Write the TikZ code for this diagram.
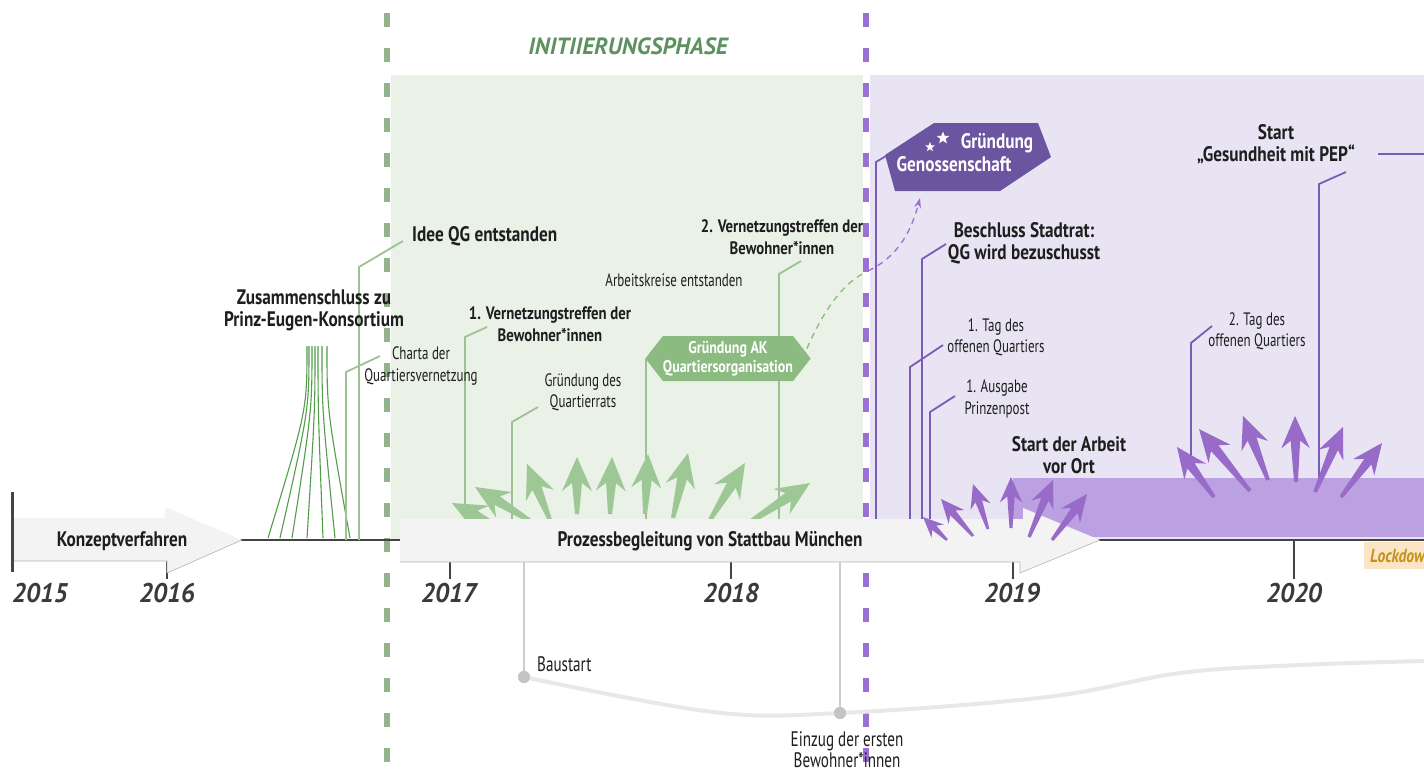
\documentclass[tikz,border=0pt]{standalone}
\usepackage{fontspec}
\setmainfont{PT Sans}
\newfontfamily\condfont[FakeStretch=0.72]{PT Sans}
\newfontfamily\condbfont[FakeStretch=0.82]{PT Sans}
\newfontfamily\yearfont[FakeStretch=0.95]{PT Sans}
\newfontfamily\phasefont[FakeStretch=1.0]{PT Sans}
\usetikzlibrary{calc,shapes.geometric,shapes.symbols,arrows.meta}

\definecolor{ink}{HTML}{1E1E1E}
\definecolor{yearc}{HTML}{3A3A3A}
\definecolor{axisc}{HTML}{444444}
\definecolor{greenbg}{HTML}{EAF1E7}
\definecolor{purplebg}{HTML}{E9E4F4}
\definecolor{greendash}{HTML}{93B38D}
\definecolor{purpledash}{HTML}{9A70D2}
\definecolor{greenlead}{HTML}{9CC292}
\definecolor{fanc}{HTML}{529C4C}
\definecolor{greenarr}{HTML}{9DC896}
\definecolor{hexgreen}{HTML}{8BBB80}
\definecolor{phasetitle}{HTML}{5E9160}
\definecolor{purplelead}{HTML}{7A5BB6}
\definecolor{purplearr}{HTML}{986BC9}
\definecolor{purpleband}{HTML}{BBA0E2}
\definecolor{hexpurple}{HTML}{6B54A0}
\definecolor{procfill}{HTML}{F3F3F3}
\definecolor{procedge}{HTML}{B4B4B4}
\definecolor{lockbg}{HTML}{FCE5C4}
\definecolor{locktext}{HTML}{C4921C}
\definecolor{buildline}{HTML}{CDCDCD}
\definecolor{buildcurve}{HTML}{E8E8E8}
\definecolor{builddot}{HTML}{C4C4C4}

% fat radiating arrow: #1 style, #2 size factor, #3 tail, #4 tip
\newcommand\fatarrow[4]{%
  \coordinate (fa-t) at (#4);
  \coordinate (fa-s) at (#3);
  \coordinate (fa-h) at ($(fa-t)!#2*34pt!(fa-s)$);
  \coordinate (fa-j) at ($(fa-t)!#2*26pt!(fa-s)$);
  \fill[#1] (fa-t) -- ($(fa-h)!#2*15pt!90:(fa-t)$) -- ($(fa-j)!#2*5pt!90:(fa-t)$)
    -- ($(fa-s)!#2*2pt!90:(fa-t)$) -- ($(fa-s)!#2*2pt!-90:(fa-t)$)
    -- ($(fa-j)!#2*5pt!-90:(fa-t)$) -- ($(fa-h)!#2*15pt!-90:(fa-t)$) -- cycle;
}

\begin{document}
\begin{tikzpicture}[x=1pt,y=-1pt,
  lblB/.style={font=\condbfont\bfseries\fontsize{21}{22}\selectfont, text=ink, align=center, inner sep=0pt},
  lblS/.style={font=\condbfont\bfseries\fontsize{18}{21.5}\selectfont, text=ink, align=center, inner sep=0pt},
  lblN/.style={font=\condfont\fontsize{18}{21.5}\selectfont, text=ink, align=center, inner sep=0pt},
  lblL/.style={font=\condfont\fontsize{21}{21}\selectfont, text=ink, align=center, inner sep=0pt},
  lblW/.style={font=\condbfont\bfseries\fontsize{21}{21}\selectfont, text=white, align=center, inner sep=0pt},
  yearlbl/.style={font=\yearfont\bfseries\itshape\fontsize{27}{27}\selectfont, text=yearc, inner sep=0pt},
  phaseG/.style={draw=greendash, line width=5.5pt, dash pattern=on 14pt off 21pt},
  phaseP/.style={draw=purpledash, line width=5.5pt, dash pattern=on 14pt off 21pt},
  leadG/.style={draw=greenlead, line width=1.8pt},
  leadP/.style={draw=purplelead, line width=1.8pt},
  fanline/.style={draw=fanc, line width=1.1pt},
  tickline/.style={draw=axisc, line width=2.5pt},
  procarrow/.style={fill=procfill},
  procline/.style={draw=procedge, line width=0.6pt},
  garr/.style={fill=greenarr},
  parr/.style={fill=purplearr},
  dropline/.style={draw=buildline, line width=1.5pt},
  dot/.style={circle, fill=builddot, minimum size=12pt, inner sep=0pt}
]
\useasboundingbox (0,0) rectangle (1424,772);
\fill[white] (0,0) rectangle (1424,772);

% phase backgrounds
\fill[greenbg] (391,75) rectangle (863,540);
\fill[purplebg] (870,75) rectangle (1424,540);

% phase borders
\draw[phaseG] (387,13) -- (387,772);
\draw[phaseP] (866,13) -- (866,772);
\node[font=\phasefont\bfseries\itshape\fontsize{23.5}{23.5}\selectfont, text=phasetitle, inner sep=0pt] (phase) at (628,46) {INITIIERUNGSPHASE};

% on-site work band
\fill[purpleband] (1013,478) rectangle (1424,537);

% time axis
\coordinate (ax-start) at (12,540);
\coordinate (ax-end) at (1424,540);
\draw[tickline] (ax-start) -- (ax-end);
\draw[draw=axisc, line width=3pt] (12,492) -- (12,572);
\foreach \xx in {167,450,731,1013,1294} \draw[tickline] (\xx,540) -- (\xx,579);
\node[yearlbl] (y2015) at (40,593) {2015};
\node[yearlbl] (y2016) at (167,593) {2016};
\node[yearlbl] (y2017) at (449,593) {2017};
\node[yearlbl] (y2018) at (731,593) {2018};
\node[yearlbl] (y2019) at (1012,593) {2019};
\node[yearlbl] (y2020) at (1294,593) {2020};

% consortium fan
\foreach \tx/\bx in {307/268, 309/280, 312/292, 315/307, 318/323, 322/335, 327/350}
  \draw[fanline] (\tx,346) .. controls (\tx,410) .. (\bx,538);

% green leader lines
\coordinate (idee-foot) at (359,540);
\coordinate (charta-foot) at (346,540);
\coordinate (v1-foot) at (465,519);
\coordinate (qr-foot) at (512,519);
\coordinate (ak-foot) at (646,519);
\coordinate (v2-foot) at (779,519);
\draw[leadG] (idee-foot) -- (359,267) -- (403,241);
\draw[leadG] (charta-foot) -- (346,372) -- (380,356);
\draw[leadG] (v1-foot) -- (465,337) -- (487,327);
\draw[leadG] (qr-foot) -- (512,422) -- (538,407);
\draw[leadG] (ak-foot) -- (646,359);
\draw[leadG] (v2-foot) -- (779,274) -- (801,261);

% purple leader lines
\coordinate (gen-foot) at (876,540);
\coordinate (bs-foot) at (922,540);
\coordinate (tag1-foot) at (910,540);
\coordinate (aus-foot) at (930,540);
\coordinate (tag2-foot) at (1191,470);
\coordinate (pep-foot) at (1319,485);
\draw[leadP] (gen-foot) -- (876,162) -- (886,156);
\draw[leadP] (bs-foot) -- (922,259) -- (946,244);
\draw[leadP] (tag1-foot) -- (910,367) -- (943,345);
\draw[leadP] (aus-foot) -- (930,412) -- (955,396);
\draw[leadP] (tag2-foot) -- (1191,343) -- (1212,326);
\draw[leadP] (pep-foot) -- (1319,184) -- (1346,172);
\coordinate (pep-line) at (1378,154);
\coordinate (pep-out) at (1424,154);
\draw[draw=purplelead, line width=1.5pt] (pep-line) -- (pep-out);

% green radiating arrows
\fatarrow{garr}{1}{505,531}{452,503}
\fatarrow{garr}{1}{532,522}{475,487}
\fatarrow{garr}{1}{550,520}{527,464}
\fatarrow{garr}{1}{577,514}{577,457}
\fatarrow{garr}{1}{610,514}{612,457}
\fatarrow{garr}{1}{645,514}{648,454}
\fatarrow{garr}{1}{673,518}{688,453}
\fatarrow{garr}{1}{710,520}{745,463}
\fatarrow{garr}{1}{747,524}{810,483}

% process arrows
\fill[procarrow] (14,518) -- (165,518) -- (165,507) -- (242,540) -- (167,573) -- (167,561) -- (14,561) -- cycle;
\draw[procline] (14,561) -- (167,561) -- (167,573) -- (242,540);
\node[lblB] (konzept) at (122,541) {Konzeptverfahren};

\fill[procarrow] (400,519) -- (1023,519) -- (1023,508) -- (1100,540) -- (1020,573) -- (1020,562) -- (400,562) -- cycle;
\draw[procline] (400,562) -- (1020,562) -- (1020,573) -- (1100,540);
\node[lblB] (prozess) at (710,541) {Prozessbegleitung von Stattbau München};

% purple radiating arrows
\fatarrow{parr}{0.6}{947,540}{923,517}
\fatarrow{parr}{0.7}{973,536}{941,499}
\fatarrow{parr}{0.7}{988,529}{973,484}
\fatarrow{parr}{0.75}{1011,528}{1011,477}
\fatarrow{parr}{0.8}{1029,537}{1053,480}
\fatarrow{parr}{0.8}{1052,540}{1087,494}
\fatarrow{parr}{0.9}{1214,497}{1177,447}
\fatarrow{parr}{0.95}{1250,491}{1199,429}
\fatarrow{parr}{0.95}{1268,480}{1243,416}
\fatarrow{parr}{0.95}{1296,482}{1295,416}
\fatarrow{parr}{0.9}{1315,492}{1343,427}
\fatarrow{parr}{0.9}{1341,497}{1382,443}

% lockdown marker, running on past the right edge
\begin{scope}
  \clip (1364,542) rectangle (1424,569);
  \fill[lockbg] (1364,542) rectangle (1424,569);
  \node[font=\condbfont\bfseries\itshape\fontsize{19}{19}\selectfont, text=locktext, anchor=west, inner sep=0pt] (lockdown) at (1370,556) {Lockdown};
\end{scope}

% green milestones
\node[lblB] (zus) at (314,310) {Zusammenschluss zu\\Prinz-Eugen-Konsortium};
\node[lblB, anchor=west] (idee) at (412,236) {Idee QG entstanden};
\node[lblN] (charta) at (421,366) {Charta der\\Quartiersvernetzung};
\node[lblS] (v1) at (550,324) {1. Vernetzungstreffen der\\Bewohner*innen};
\node[lblN] (qr) at (583,392) {Gründung des\\Quartierrats};
\node[lblN] (ak) at (674,280) {Arbeitskreise entstanden};
\node[lblS] (v2) at (782,237) {2. Vernetzungstreffen der\\Bewohner*innen};
\node[signal, signal to=west and east, signal pointer angle=104, fill=hexgreen,
  minimum width=164pt, minimum height=45pt, inner sep=0pt, lblW,
  font=\condbfont\bfseries\fontsize{17}{19}\selectfont] (akq) at (728,358.5) {Gründung AK\\Quartiersorganisation};

% purple milestones
\fill[hexpurple] (885,155) -- (934,123) -- (1038,123) -- (1051,157) -- (1000,191) -- (895,191) -- cycle;
\node[lblW] (gen1) at (997,143) {Gründung};
\node[lblW] (gen2) at (954,164) {Genossenschaft};
\node[star, star points=5, star point ratio=2.3, fill=white, minimum size=10pt, inner sep=0pt] (star1) at (930,147) {};
\node[star, star points=5, star point ratio=2.3, fill=white, minimum size=13pt, inner sep=0pt] (star2) at (943,138) {};
\node[lblB] (bs) at (1024,243) {Beschluss Stadtrat:\\QG wird bezuschusst};
\node[lblN] (tag1) at (996,337) {1. Tag des\\offenen Quartiers};
\node[lblN] (aus) at (997,399) {1. Ausgabe\\Prinzenpost};
\node[lblB] (arbeit) at (1069,455) {Start der Arbeit\\vor Ort};
\node[lblN] (tag2) at (1257,331) {2. Tag des\\offenen Quartiers};
\node[lblB] (pep) at (1276,144) {Start\\„Gesundheit mit PEP“};

% link from working group to cooperative
\coordinate (link-mid) at (864,273);
\draw[draw=hexgreen, line width=1.3pt, dash pattern=on 6pt off 5pt] (akq.east) ++(-4,-10) .. controls (826,305) and (845,283) .. (link-mid);
\draw[draw=purpledash, line width=1.3pt, dash pattern=on 6pt off 5pt, -{Stealth[length=10pt,width=7pt]}] (link-mid) ++(4,-2) .. controls (895,258) and (910,236) .. (920,198);

% construction timeline
\node[dot] (baustart-dot) at (524,677) {};
\node[dot] (einzug-dot) at (840,713) {};
\coordinate (bau-top) at (524,562);
\coordinate (ein-top) at (840,562);
\draw[dropline] (bau-top) -- (baustart-dot.center);
\draw[dropline] (ein-top) -- (einzug-dot.center);
\draw[draw=buildcurve, line width=4pt] plot[smooth, tension=0.6] coordinates {(524,677) (713,712) (840,713) (1047,697) (1180,673) (1300,665) (1424,661)};
\node[dot] at (baustart-dot) {};
\node[dot] at (einzug-dot) {};
\node[lblL, anchor=west] (baustart) at (537,664) {Baustart};
\node[lblL] (einzug) at (847,750) {Einzug der ersten\\Bewohner*innen};
\end{tikzpicture}
\end{document}
